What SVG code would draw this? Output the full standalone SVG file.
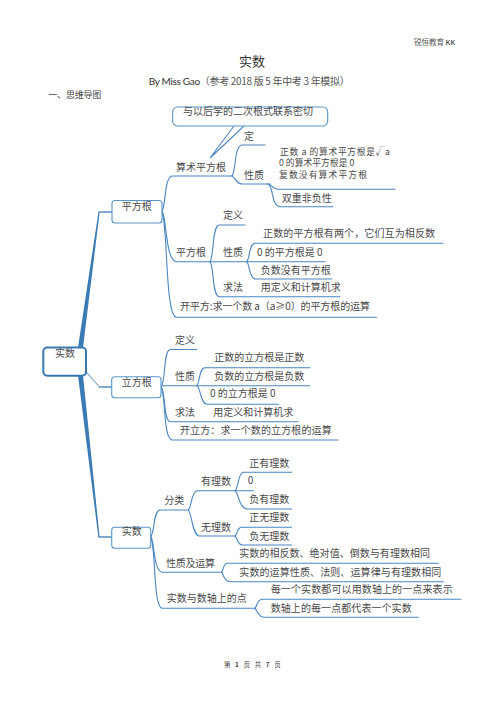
<svg xmlns="http://www.w3.org/2000/svg" width="502" height="711" viewBox="0 0 502 711">
<style>
.t{font-family:"Noto Sans CJK SC","Noto Sans",sans-serif;font-size:10px;fill:#4a4a4a}
.sm{font-size:8.8px}
.ln{fill:none;stroke:#4a86c1;stroke-width:1.1;stroke-linecap:round}
.mn{fill:#3a7ab5;stroke:none}
.mh{fill:none;stroke:#3a7ab5;stroke-width:1.3}
.box{fill:#fff;stroke:#5a95c8;stroke-width:1.1}
.cbox{fill:#fff;stroke:#3a78b0;stroke-width:2}
</style>
<rect width="502" height="711" fill="#fff"/>
<!-- header -->
<text x="414" y="44.5" font-family="Noto Sans CJK SC,sans-serif" font-size="7.5" fill="#555">锐恒教育 <tspan font-family="Liberation Sans,sans-serif" font-weight="bold" font-size="6.5">KK</tspan></text>
<text x="252" y="66.3" text-anchor="middle" font-family="Noto Sans CJK SC,sans-serif" font-size="13" fill="#333">实数</text>
<text x="148.7" y="85" font-family="Lato,sans-serif" font-size="10" fill="#333" textLength="201" lengthAdjust="spacing">By Miss Gao<tspan font-family="Noto Sans CJK SC,sans-serif" fill="#555">（参考 2018 版 5 年中考 3 年模拟）</tspan></text>
<text x="48.3" y="97.8" font-family="Noto Sans CJK SC,sans-serif" font-size="9" fill="#444" textLength="53" lengthAdjust="spacing">一、思维导图</text>
<text x="224" y="666.8" font-family="Noto Sans CJK SC,sans-serif" font-size="6.5" fill="#444" textLength="56.7" lengthAdjust="spacing">第 <tspan font-weight="bold">1</tspan> 页 共 <tspan font-weight="bold">7</tspan> 页</text>

<g id="connectors">
  <!-- main trunk -->
  <path class="mn" d="M78 347.5 L83 347.5 L99.6 212.5 L98.4 212.5 Z"/>
  <path class="mh" d="M98.4 212 L112 212"/>
  <path class="mn" d="M84 369 L87 373.5 L99.5 387.6 L99 386 Z"/>
  <path class="mh" d="M99 387 L112 387"/>
  <path class="mn" d="M78 375.5 L83 375.5 L99.6 537 L98.4 537 Z"/>
  <path class="mh" d="M98.4 537 L112 537"/>
  <!-- callout pointer -->
  <polyline class="ln" points="234,126 210,158 244,126"/>
  <!-- 平方根 -->
  <path class="ln" d="M162 211 C166 206 164 178 172 176 L232 176"/>
  <path class="ln" d="M162 211 C167 218 165 258 176 261.7 L325 261.7"/>
  <path class="ln" d="M162 211 C168 228 165 313 176 317.3 L376.7 317.3"/>
  <path class="ln" d="M232 176 C236 172 234 146 242 145 L265 145"/>
  <path class="ln" d="M232 176 C236 178 236 184 242 184 L270 184"/>
  <path class="ln" d="M268 184 C273 185 272 189.3 278 189.3 L395 189.3"/>
  <path class="ln" d="M268 184 C274 187 271 206 280 206.7 L333 206.7"/>
  <path class="ln" d="M210 261.7 C214 257 212 226 219 225 L245 225"/>
  <path class="ln" d="M210 261.7 C214 266 212 295 219 296.7 L340 296.7"/>
  <path class="ln" d="M246.7 261.7 C250 258 249 244 255 243.3 L443 243.3"/>
  <path class="ln" d="M246.7 261.7 C250 265 249 278 255 279 L331.7 279"/>
  <!-- 立方根 -->
  <path class="ln" d="M161 386.7 C166 382 163 351 170 349.5 L196.7 349.5"/>
  <path class="ln" d="M161 385.7 L310 385.7"/>
  <path class="ln" d="M161 386.7 C166 391 163 420 170 421.7 L298.3 421.7"/>
  <path class="ln" d="M161 386.7 C166 396 163 438 172 440 L338 440"/>
  <path class="ln" d="M197 385.7 C200 382 199 368 205 367.7 L310 367.7"/>
  <path class="ln" d="M197 385.7 C201 389 200 403 207 404.3 L278.3 404.3"/>
  <!-- 实数 -->
  <path class="ln" d="M150.7 536.7 C155 532 153 511 160 510 L188.3 510"/>
  <path class="ln" d="M150.7 536.7 C155 542 153 570 162 572.3 L221.7 572.3"/>
  <path class="ln" d="M150.7 536.7 C156 548 153 606 162 608.3 L255 608.3"/>
  <path class="ln" d="M188.3 510 C192 506 191 492 197 490.7 L253.3 490.7"/>
  <path class="ln" d="M188.3 510 C192 514 192 534 199 536 L235 536"/>
  <path class="ln" d="M235 490.7 C239 487 238 473 243 472.3 L291.7 472.3"/>
  <path class="ln" d="M235 490.7 C239 494 239 508 247 509 L291.7 509"/>
  <path class="ln" d="M235 536 C238 533 237 528 241 527.3 L291.7 527.3"/>
  <path class="ln" d="M235 536 C238 539 237 544 242 545 L291.7 545"/>
  <path class="ln" d="M221.7 572.3 C224 569 223 564 227 563.3 L438.3 563.3"/>
  <path class="ln" d="M221.7 572.3 C224 576 224 581 230 581.7 L443.3 581.7"/>
  <path class="ln" d="M255 608.3 C258 604 257 600 262 599.3 L461 599.3"/>
  <path class="ln" d="M255 608.3 C258 612 258 617 264 617.3 L418.3 617.3"/>
</g>

<g id="root">
  <rect class="cbox" x="43.3" y="347.5" width="42.7" height="28.2" rx="4"/>
  <text class="t" x="55" y="357.2">实数</text>
</g>
<g id="note">
  <rect class="box" x="172.7" y="107" width="155" height="19" rx="5"/>
  <text class="t" x="183" y="114.5" textLength="130" lengthAdjust="spacing">与以后学的二次根式联系密切</text>
</g>
<g id="n-pfg">
  <rect class="box" x="112" y="200.5" width="50" height="22.5" rx="3"/>
  <text class="t" x="121.7" y="210.3">平方根</text>
</g>
<g id="n-lfg">
  <rect class="box" x="111.7" y="376.7" width="49.3" height="21" rx="3"/>
  <text class="t" x="121.7" y="385.5">立方根</text>
</g>
<g id="n-ss">
  <rect class="box" x="111.7" y="527.3" width="39" height="21" rx="3"/>
  <text class="t" x="121.7" y="534.5">实数</text>
</g>

<g id="n-sspfg"><text class="t" x="176" y="170.5">算术平方根</text></g>
<g id="n-ding"><text class="t" x="244" y="139.5">定</text></g>
<g id="n-xz1"><text class="t" x="244" y="178.8">性质</text></g>
<g id="n-xz1-a">
  <text class="t sm" x="280" y="154.5" textLength="110" lengthAdjust="spacing">正数 a 的算术平方根是√a</text>
  <text class="t sm" x="279" y="166.3">0 的算术平方根是 0</text>
  <text class="t sm" x="279" y="178.1" textLength="88" lengthAdjust="spacing">复数没有算术平方根</text>
</g>
<g id="n-sfn"><text class="t" x="281.7" y="201.5">双重非负性</text></g>

<g id="n-pfg2"><text class="t" x="176" y="255.5">平方根</text></g>
<g id="n-dy1"><text class="t" x="223" y="218.8">定义</text></g>
<g id="n-xz2"><text class="t" x="223" y="255.5">性质</text></g>
<g id="n-qf1"><text class="t" x="223" y="291.3">求法</text></g>
<g id="n-xz2-a"><text class="t" x="263" y="237.3" textLength="172" lengthAdjust="spacing">正数的平方根有两个，它们互为相反数</text></g>
<g id="n-xz2-b"><text class="t" x="257" y="255.5">0 的平方根是 0</text></g>
<g id="n-xz2-c"><text class="t" x="260.7" y="274">负数没有平方根</text></g>
<g id="n-qf1-a"><text class="t" x="260.7" y="291.3" textLength="80" lengthAdjust="spacing">用定义和计算机求</text></g>
<g id="n-kpf"><text class="t" x="180" y="310" textLength="190" lengthAdjust="spacing">开平方:求一个数 a（a≥0）的平方根的运算</text></g>

<g id="n-dy2"><text class="t" x="175" y="343.8">定义</text></g>
<g id="n-xz3"><text class="t" x="175" y="379.5">性质</text></g>
<g id="n-qf2"><text class="t" x="175" y="416">求法</text></g>
<g id="n-xz3-a"><text class="t" x="214.3" y="361" textLength="90" lengthAdjust="spacing">正数的立方根是正数</text></g>
<g id="n-xz3-b"><text class="t" x="214.3" y="379.5" textLength="90" lengthAdjust="spacing">负数的立方根是负数</text></g>
<g id="n-xz3-c"><text class="t" x="210" y="397">0 的立方根是 0</text></g>
<g id="n-qf2-a"><text class="t" x="213.3" y="416" textLength="80" lengthAdjust="spacing">用定义和计算机求</text></g>
<g id="n-klf"><text class="t" x="180" y="433.8" textLength="151.7" lengthAdjust="spacing">开立方：求一个数的立方根的运算</text></g>

<g id="n-fl"><text class="t" x="164.3" y="503.8">分类</text></g>
<g id="n-yls"><text class="t" x="201" y="484.5">有理数</text></g>
<g id="n-wls"><text class="t" x="201" y="531">无理数</text></g>
<g id="n-zyls"><text class="t" x="249.3" y="466.5">正有理数</text></g>
<g id="n-zero"><text class="t" x="247.7" y="484.3">0</text></g>
<g id="n-fyls"><text class="t" x="249.3" y="503">负有理数</text></g>
<g id="n-zwls"><text class="t" x="249.3" y="521">正无理数</text></g>
<g id="n-fwls"><text class="t" x="249.3" y="539.5">负无理数</text></g>
<g id="n-xzys"><text class="t" x="166" y="566.5" textLength="49" lengthAdjust="spacing">性质及运算</text></g>
<g id="n-xzys-a"><text class="t" x="239.3" y="557" textLength="190.7" lengthAdjust="spacing">实数的相反数、绝对值、倒数与有理数相同</text></g>
<g id="n-xzys-b"><text class="t" x="239.3" y="575.5" textLength="202" lengthAdjust="spacing">实数的运算性质、法则、运算律与有理数相同</text></g>
<g id="n-szd"><text class="t" x="166.7" y="602" textLength="80" lengthAdjust="spacing">实数与数轴上的点</text></g>
<g id="n-szd-a"><text class="t" x="270.7" y="593" textLength="182" lengthAdjust="spacing">每一个实数都可以用数轴上的一点来表示</text></g>
<g id="n-szd-b"><text class="t" x="270.7" y="612" textLength="141" lengthAdjust="spacing">数轴上的每一点都代表一个实数</text></g>
</svg>
